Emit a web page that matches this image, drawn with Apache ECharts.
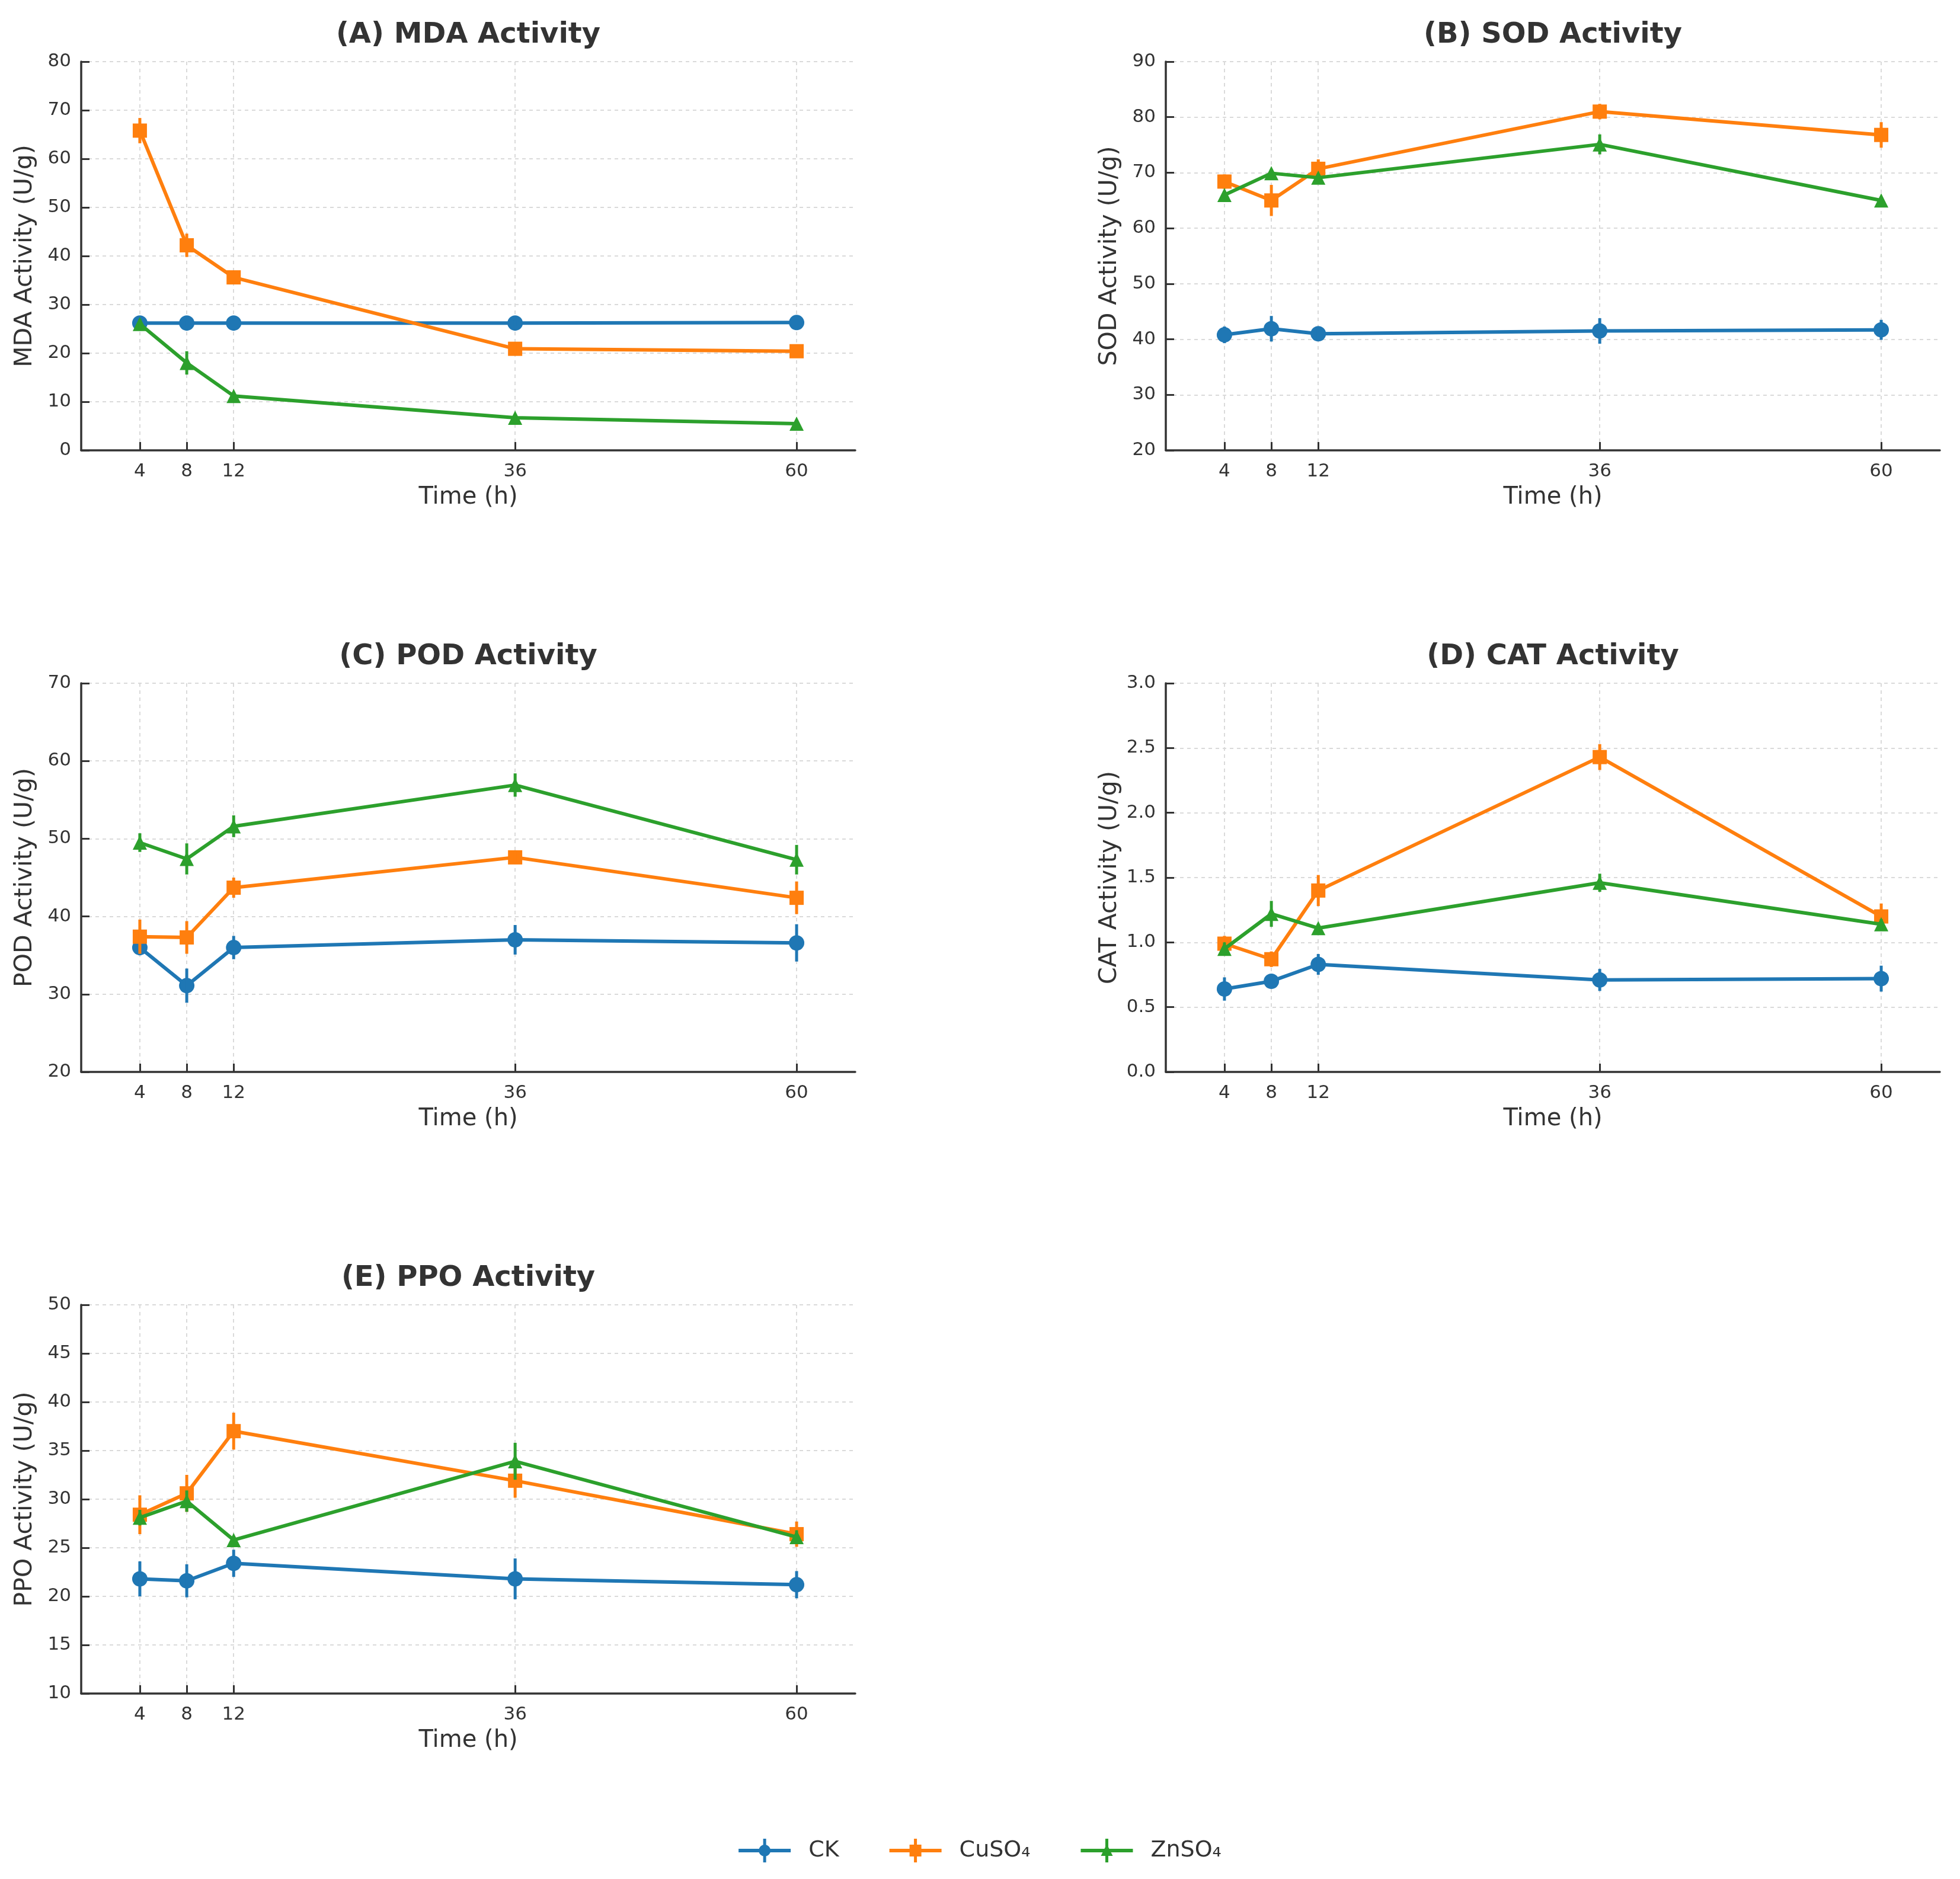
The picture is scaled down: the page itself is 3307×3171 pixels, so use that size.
<!DOCTYPE html>
<html>
<head>
<meta charset="utf-8">
<script src="https://cdn.jsdelivr.net/npm/echarts@6/dist/echarts.min.js"></script>
<style>
html,body{margin:0;padding:0;background:#ffffff;}
#chart{width:3307px;height:3171px;}
</style>
</head>
<body>
<div id="chart"></div>
<script>
// ---------------- DATA ----------------
const times = [4, 8, 12, 36, 60];
const timeTicks = [4, 8, 12, 36, 60];
const groups = ['CK', 'CuSO₄', 'ZnSO₄'];
const panelTitles = ['(A) MDA Activity', '(B) SOD Activity', '(C) POD Activity', '(D) CAT Activity', '(E) PPO Activity'];
const yNames = ['MDA Activity (U/g)', 'SOD Activity (U/g)', 'POD Activity (U/g)', 'CAT Activity (U/g)', 'PPO Activity (U/g)'];
const xName = 'Time (h)';
const yMins = [0, 20, 20, 0, 10];
const yMaxs = [80, 90, 70, 3, 50];
const ySteps = [10, 10, 10, 0.5, 5];

// MDA
const mdaCK = [26.2, 26.2, 26.2, 26.2, 26.3];
const mdaCKErr = [0.6, 0.6, 0.6, 0.6, 0.6];
const mdaCu = [65.8, 42.2, 35.6, 20.9, 20.4];
const mdaCuErr = [2.6, 2.4, 1.2, 1.0, 1.3];
const mdaZn = [26.0, 18.0, 11.2, 6.7, 5.5];
const mdaZnErr = [1.0, 2.4, 0.8, 0.6, 0.5];
// SOD
const sodCK = [40.8, 41.9, 41.0, 41.5, 41.7];
const sodCKErr = [1.5, 2.3, 1.0, 2.3, 1.8];
const sodCu = [68.4, 65.0, 70.7, 81.0, 76.8];
const sodCuErr = [1.3, 2.8, 1.7, 1.4, 2.3];
const sodZn = [66.0, 69.9, 69.1, 75.1, 65.0];
const sodZnErr = [0.7, 0.7, 0.7, 1.8, 0.6];
// POD
const podCK = [36.0, 31.1, 36.0, 37.0, 36.6];
const podCKErr = [1.0, 2.2, 1.5, 1.9, 2.4];
const podCu = [37.4, 37.3, 43.7, 47.6, 42.4];
const podCuErr = [2.2, 2.1, 1.3, 0.8, 2.1];
const podZn = [49.5, 47.4, 51.6, 56.9, 47.3];
const podZnErr = [1.2, 2.0, 1.4, 1.5, 1.9];
// CAT
const catCK = [0.64, 0.70, 0.83, 0.71, 0.72];
const catCKErr = [0.09, 0.04, 0.08, 0.085, 0.1];
const catCu = [0.99, 0.87, 1.40, 2.43, 1.20];
const catCuErr = [0.06, 0.06, 0.12, 0.1, 0.1];
const catZn = [0.95, 1.22, 1.11, 1.46, 1.14];
const catZnErr = [0.05, 0.1, 0.03, 0.07, 0.04];
// PPO
const ppoCK = [21.8, 21.6, 23.4, 21.8, 21.2];
const ppoCKErr = [1.8, 1.7, 1.4, 2.1, 1.4];
const ppoCu = [28.4, 30.6, 37.0, 31.9, 26.4];
const ppoCuErr = [2.0, 1.9, 1.9, 1.75, 1.3];
const ppoZn = [28.1, 29.8, 25.8, 33.9, 26.1];
const ppoZnErr = [0.8, 1.1, 0.4, 1.9, 0.7];

const panelValues = [
  [mdaCK, mdaCu, mdaZn],
  [sodCK, sodCu, sodZn],
  [podCK, podCu, podZn],
  [catCK, catCu, catZn],
  [ppoCK, ppoCu, ppoZn]
];
const panelErrors = [
  [mdaCKErr, mdaCuErr, mdaZnErr],
  [sodCKErr, sodCuErr, sodZnErr],
  [podCKErr, podCuErr, podZnErr],
  [catCKErr, catCuErr, catZnErr],
  [ppoCKErr, ppoCuErr, ppoZnErr]
];

// ---------------- STYLE / LAYOUT ----------------
const colors = ['#1f77b4', '#ff7f0e', '#2ca02c'];
const symbols = ['circle', 'rect', 'triangle'];
const symbolSizes = [26, 24, 24];
const FONT = "'DejaVu Sans', 'Liberation Sans', sans-serif";
const TXT = '#333333';
const gridLefts = [137, 1967, 137, 1967, 137];
const gridTops = [104, 104, 1153, 1153, 2202];
const GRID_W = 1306, GRID_H = 656;

const legendIcons = [
  'path://M0 17H88V23H0Z M41.5 0H46.5V40H41.5Z M34 20A10 10 0 1 1 54 20A10 10 0 1 1 34 20Z',
  'path://M0 17H88V23H0Z M41.5 0H46.5V40H41.5Z M34 10H54V30H34Z',
  'path://M0 17H88V23H0Z M41.5 0H46.5V40H41.5Z M44 9L54 29L34 29Z'
];

function errRender(params, api) {
  const x = api.value(0);
  const a = api.coord([x, api.value(1)]);
  const b = api.coord([x, api.value(2)]);
  return {
    type: 'line',
    shape: { x1: a[0], y1: a[1], x2: b[0], y2: b[1] },
    style: { stroke: api.visual('color'), lineWidth: 5 }
  };
}

const grids = [], xAxes = [], yAxes = [], titles = [], series = [];
const splitStyle = { color: '#dadada', width: 2, type: [6, 6] };

for (let p = 0; p < 5; p++) {
  grids.push({ left: gridLefts[p], top: gridTops[p], width: GRID_W, height: GRID_H, containLabel: false });
  titles.push({
    text: panelTitles[p],
    left: gridLefts[p] + GRID_W / 2,
    top: gridTops[p] - 68,
    textAlign: 'center',
    padding: 0,
    textStyle: { fontFamily: FONT, fontSize: 48, fontWeight: 'bold', color: TXT }
  });
  xAxes.push({
    gridIndex: p, type: 'value', min: -1, max: 65,
    name: xName, nameLocation: 'middle', nameGap: 60,
    nameTextStyle: { fontFamily: FONT, fontSize: 40, color: TXT },
    axisLine: { show: true, onZero: false, lineStyle: { color: TXT, width: 3.5 } },
    axisTick: { show: true, inside: true, length: 14, customValues: timeTicks, lineStyle: { color: TXT, width: 3 } },
    axisLabel: { customValues: timeTicks, fontFamily: FONT, fontSize: 31, color: TXT, margin: 20 },
    splitLine: { show: true, lineStyle: splitStyle }
  });
  yAxes.push({
    gridIndex: p, type: 'value', min: yMins[p], max: yMaxs[p], interval: ySteps[p],
    name: yNames[p], nameLocation: 'middle', nameGap: 74,
    nameTextStyle: { fontFamily: FONT, fontSize: 41, color: TXT },
    axisLine: { show: true, onZero: false, lineStyle: { color: TXT, width: 3.5 } },
    axisTick: { show: true, inside: true, length: 14, lineStyle: { color: TXT, width: 3 } },
    axisLabel: {
      fontFamily: FONT, fontSize: 31, color: TXT, margin: 17,
      formatter: p === 3 ? (v) => v.toFixed(1) : (v) => String(v)
    },
    splitLine: { show: true, lineStyle: splitStyle }
  });
  for (let g = 0; g < 3; g++) {
    const vals = panelValues[p][g];
    const errs = panelErrors[p][g];
    series.push({
      name: groups[g], type: 'line', xAxisIndex: p, yAxisIndex: p,
      data: times.map((t, i) => [t, vals[i]]),
      symbol: symbols[g], symbolSize: symbolSizes[g], showSymbol: true,
      itemStyle: { color: colors[g] },
      lineStyle: { color: colors[g], width: 6 },
      z: 2 + g * 2, animation: false
    });
    series.push({
      name: groups[g], type: 'custom', xAxisIndex: p, yAxisIndex: p,
      renderItem: errRender,
      encode: { x: 0, y: [1, 2] },
      data: times.map((t, i) => [t, vals[i] - errs[i], vals[i] + errs[i]]),
      itemStyle: { color: colors[g] },
      z: 3 + g * 2, animation: false
    });
  }
}

const chart = echarts.init(document.getElementById('chart'), null, { renderer: 'canvas' });
chart.setOption({
  backgroundColor: '#ffffff',
  animation: false,
  title: titles,
  grid: grids,
  xAxis: xAxes,
  yAxis: yAxes,
  legend: {
    data: groups.map((g, i) => ({ name: g, icon: legendIcons[i] })),
    left: 'center', top: 3098,
    itemWidth: 88, itemHeight: 40, itemGap: 85,
    textStyle: { fontFamily: FONT, fontSize: 38, color: TXT, padding: [0, 0, 0, 25] }
  },
  series: series
});
</script>
</body>
</html>
